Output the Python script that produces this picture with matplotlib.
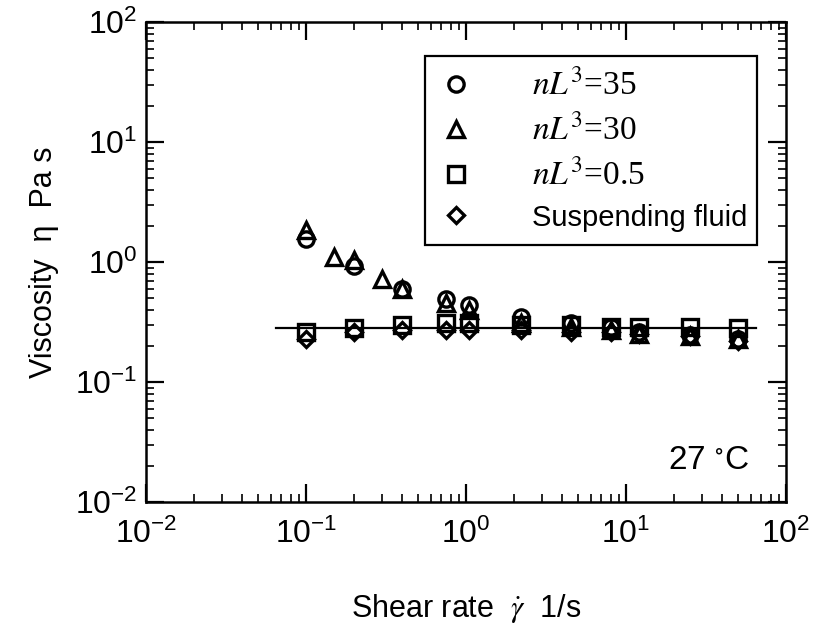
import numpy as np
import matplotlib
matplotlib.use("Agg")
from matplotlib import pyplot as plt

# shear rate (1/s) and viscosity (Pa s)
x_35 = [0.1, 0.2, 0.4, 0.75, 1.05, 2.2, 4.5, 8, 12, 25, 50]
y_35 = [1.57, 0.93, 0.60, 0.49, 0.44, 0.35, 0.31, 0.29, 0.26, 0.245, 0.23]

x_30 = [0.1, 0.15, 0.2, 0.3, 0.4, 0.75, 1.05, 2.2, 4.5, 8, 12, 25, 50]
y_30 = [1.85, 1.1, 1.05, 0.72, 0.60, 0.46, 0.40, 0.31, 0.29, 0.27, 0.25, 0.24, 0.23]

x_05 = [0.1, 0.2, 0.4, 0.75, 1.05, 2.2, 4.5, 8, 12, 25, 50]
y_05 = [0.26, 0.28, 0.30, 0.31, 0.31, 0.30, 0.30, 0.29, 0.29, 0.29, 0.28]

x_fluid = [0.1, 0.2, 0.4, 0.75, 1.05, 2.2, 4.5, 8, 12, 25, 50]
y_fluid = [0.23, 0.26, 0.27, 0.27, 0.27, 0.27, 0.26, 0.26, 0.25, 0.24, 0.22]

line_x = [0.065, 65]
line_y = [0.28, 0.28]

labels = [r"$nL^3$=35", r"$nL^3$=30", r"$nL^3$=0.5", "Suspending fluid"]

plt.rcParams["font.family"] = ["Liberation Sans", "DejaVu Sans"]
plt.rcParams["mathtext.fontset"] = "stix"

fig = plt.figure(figsize=(8.3, 6.3), dpi=100)
ax = fig.add_axes([0.176, 0.203, 0.771, 0.762])

mk = dict(linestyle="none", markerfacecolor="none", markeredgecolor="black", markeredgewidth=2.4)
ax.plot(x_35, y_35, marker="o", markersize=11, label=labels[0], **mk)
ax.plot(x_30, y_30, marker="^", markersize=12, label=labels[1], **mk)
ax.plot(x_05, y_05, marker="s", markersize=11, label=labels[2], **mk)
ax.plot(x_fluid, y_fluid, marker="D", markersize=8, label=labels[3], **mk)
ax.plot(line_x, line_y, color="black", linewidth=1.6)

ax.set_xscale("log")
ax.set_yscale("log")
ax.set_xlim(1e-2, 1e2)
ax.set_ylim(1e-2, 1e2)

for s in ax.spines.values():
    s.set_linewidth(1.8)
ax.tick_params(which="both", direction="in", top=True, right=True, labelsize=23)
ax.tick_params(which="major", length=13, width=1.6)
ax.tick_params(axis="x", which="major", pad=12)
ax.tick_params(axis="y", which="major", pad=6)
ax.tick_params(which="minor", length=6, width=1.2)

ax.set_xlabel("Shear rate  $\\dot{\\gamma}$  1/s", fontsize=22, labelpad=30)
ax.set_ylabel("Viscosity  \u03b7  Pa s", fontsize=22, labelpad=12)

ax.text(0.815, 0.055, "27 $^{\\circ}$C", transform=ax.transAxes, fontsize=24,
        ha="left", va="bottom")

leg = ax.legend(loc="upper left", bbox_to_anchor=(0.436, 0.5625, 0.519, 0.367),
                mode="expand", fancybox=False, edgecolor="black", fontsize=21,
                handlelength=1.2, handletextpad=2.0, labelspacing=0.42,
                borderpad=0.45, borderaxespad=0, framealpha=1)
leg.get_frame().set_linewidth(1.6)
for t in leg.get_texts()[:3]:
    t.set_fontfamily("Liberation Serif")
    t.set_fontsize(24)

fig.savefig("out.png", dpi=100)
